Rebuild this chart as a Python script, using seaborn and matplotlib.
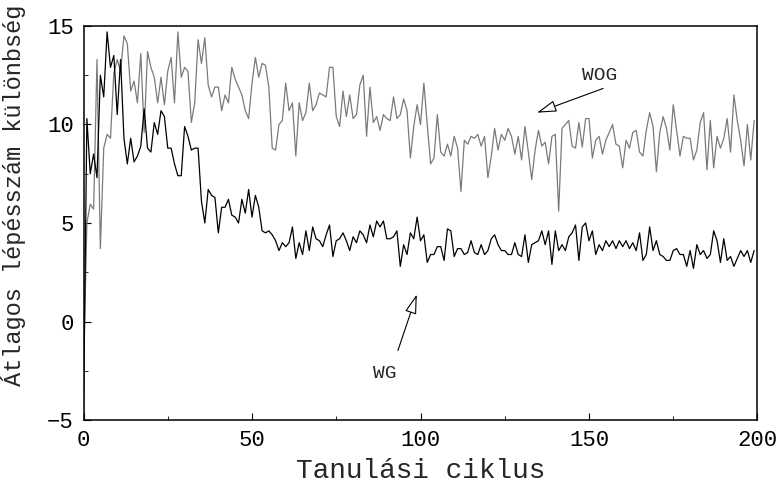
import numpy as np
import pandas as pd
import matplotlib
matplotlib.use("Agg")
import matplotlib.pyplot as plt
from matplotlib.ticker import MultipleLocator
import seaborn as sns

# adatok (leolvasva)
wg = [-4.7, 10.3, 7.5, 8.5, 7.3, 12.5, 11.4, 14.7, 12.9, 13.5,
      10.5, 13.3, 9.3, 8.0, 9.3, 8.1, 8.4, 8.9, 10.8, 8.8,
      8.6, 10.1, 9.5, 10.7, 10.4, 8.8, 8.8, 8.0, 7.4, 7.4,
      9.9, 9.4, 8.7, 8.8, 8.8, 6.1, 5.0, 6.7, 6.4, 6.3,
      4.5, 5.8, 5.8, 6.2, 5.4, 5.3, 5.0, 6.2, 5.5, 6.7,
      5.3, 6.4, 5.8, 4.6, 4.5, 4.6, 4.4, 4.1, 3.6, 4.0,
      3.8, 4.0, 4.8, 3.2, 4.0, 3.4, 4.6, 3.6, 4.8, 4.2,
      4.1, 3.8, 4.4, 4.9, 3.3, 4.1, 4.2, 4.5, 4.1, 3.6,
      4.3, 4.0, 4.6, 4.4, 4.0, 4.9, 4.3, 5.1, 4.8, 5.1,
      4.2, 4.2, 4.3, 4.6, 2.8, 3.9, 3.4, 4.5, 4.2, 5.3,
      4.1, 4.4, 3.0, 3.4, 3.4, 3.8, 3.8, 3.1, 4.7, 4.6,
      3.3, 3.7, 3.7, 3.4, 3.5, 4.1, 3.5, 3.4, 3.9, 3.4,
      3.6, 4.2, 4.4, 3.9, 3.6, 3.6, 3.4, 3.4, 4.0, 3.4,
      3.3, 4.4, 3.0, 3.9, 4.0, 4.1, 4.6, 3.9, 4.6, 2.9,
      4.6, 3.6, 3.9, 3.6, 4.3, 4.5, 4.9, 3.1, 4.8, 5.0,
      4.1, 4.6, 3.4, 3.9, 3.6, 4.1, 3.8, 4.1, 3.7, 4.1,
      3.8, 4.1, 3.7, 4.0, 3.6, 4.5, 3.1, 3.4, 4.8, 3.6,
      4.1, 3.4, 3.3, 3.1, 3.1, 3.6, 3.7, 3.4, 3.4, 2.8,
      3.6, 2.7, 3.9, 3.4, 3.6, 3.2, 3.4, 4.6, 4.1, 3.0,
      4.2, 3.1, 3.3, 2.8, 3.2, 3.6, 3.3, 3.6, 3.0, 3.6]

wog = [-2.5, 5.0, 5.95, 5.7, 13.3, 3.7, 8.8, 9.5, 9.3, 12.6,
       13.3, 12.7, 14.5, 14.1, 11.7, 12.2, 11.1, 13.6, 9.6, 13.7,
       12.9, 12.4, 11.1, 12.4, 11.0, 12.7, 13.4, 11.1, 14.7, 12.4,
       12.9, 12.7, 10.1, 11.1, 14.3, 13.1, 14.4, 12.0, 11.4, 11.9,
       11.9, 10.7, 11.5, 11.1, 12.9, 12.3, 11.9, 11.5, 10.7, 10.3,
       12.1, 13.4, 12.4, 13.1, 13.0, 11.9, 8.8, 8.7, 10.0, 10.2,
       12.1, 10.7, 11.1, 8.4, 11.1, 10.2, 10.6, 12.1, 10.7, 11.0,
       11.6, 11.5, 11.4, 12.9, 12.9, 10.4, 9.9, 11.7, 10.4, 11.5,
       10.3, 10.5, 12.0, 12.5, 9.4, 11.9, 10.1, 10.4, 9.7, 10.5,
       10.3, 10.2, 11.4, 10.3, 10.5, 11.3, 10.7, 8.3, 9.9, 11.0,
       10.0, 12.1, 10.0, 8.0, 8.3, 10.5, 8.6, 8.4, 9.0, 8.4,
       9.4, 8.8, 6.6, 9.2, 9.0, 9.4, 9.3, 9.5, 8.9, 9.4,
       7.3, 8.4, 9.8, 8.7, 9.5, 9.2, 9.8, 9.4, 8.5, 9.4,
       8.2, 9.9, 8.6, 7.2, 8.7, 9.7, 8.9, 9.1, 8.0, 9.4,
       9.5, 5.6, 9.8, 10.0, 10.2, 8.9, 8.8, 10.1, 8.85, 10.3,
       10.3, 8.3, 9.2, 9.4, 8.5, 9.2, 9.6, 10.0, 9.0, 8.9,
       7.8, 9.2, 8.8, 9.6, 9.7, 8.6, 8.4, 9.7, 10.6, 9.9,
       7.6, 9.6, 10.4, 9.8, 8.7, 11.0, 9.7, 8.4, 9.4, 9.3,
       9.3, 8.2, 8.7, 10.1, 10.6, 7.7, 10.2, 7.8, 9.4, 8.8,
       9.3, 10.3, 8.6, 11.5, 10.2, 9.2, 7.9, 10.0, 8.2, 10.2]

ciklus = np.arange(len(wg))

df = pd.DataFrame({'ciklus': ciklus, 'WG': wg, 'WOG': wog})

sns.set_theme(style='white')
plt.rcParams['font.family'] = ['Liberation Mono', 'DejaVu Sans Mono']

fig = plt.figure(figsize=(7.79, 4.92), dpi=100)
ax = fig.add_axes([0.1072, 0.1463, 0.8652, 0.8009])

sns.lineplot(data=df, x='ciklus', y='WOG', color='#7a7a7a', linewidth=0.9, ax=ax)
sns.lineplot(data=df, x='ciklus', y='WG', color='black', linewidth=0.9, ax=ax)

ax.set_xlim(0, 200)
ax.set_ylim(-5, 15)
ax.xaxis.set_major_locator(MultipleLocator(50))
ax.xaxis.set_minor_locator(MultipleLocator(25))
ax.yaxis.set_major_locator(MultipleLocator(5))
ax.yaxis.set_minor_locator(MultipleLocator(2.5))
ax.tick_params(which='both', direction='in', colors='black', labelsize=16,
               top=False, right=False, left=True, bottom=True)
ax.tick_params(which='major', length=5, width=0.8, pad=7)
ax.tick_params(which='minor', length=3, width=0.6)

for s in ax.spines.values():
    s.set_color('black')
    s.set_linewidth(1.1)

ax.set_xlabel('Tanulási ciklus', fontsize=20, labelpad=5)
ax.set_ylabel('Átlagos lépésszám különbség', fontsize=17)
ax.yaxis.set_label_coords(-0.085, 0.571)

# nyilak
ax.text(153.3, 12.5, 'WOG', fontsize=14, ha='center', va='center')
ax.annotate('', xy=(134.6, 10.6), xytext=(154.2, 11.83),
            arrowprops=dict(arrowstyle='-|>,head_length=1.0,head_width=0.3',
                            fc='white', ec='black', lw=0.8, shrinkA=0, shrinkB=0))
ax.text(89.5, -2.64, 'WG', fontsize=14, ha='center', va='center')
ax.annotate('', xy=(98.9, 1.37), xytext=(93.3, -1.47),
            arrowprops=dict(arrowstyle='-|>,head_length=1.0,head_width=0.3',
                            fc='white', ec='black', lw=0.8, shrinkA=0, shrinkB=0))

fig.savefig('out.png', dpi=100)
